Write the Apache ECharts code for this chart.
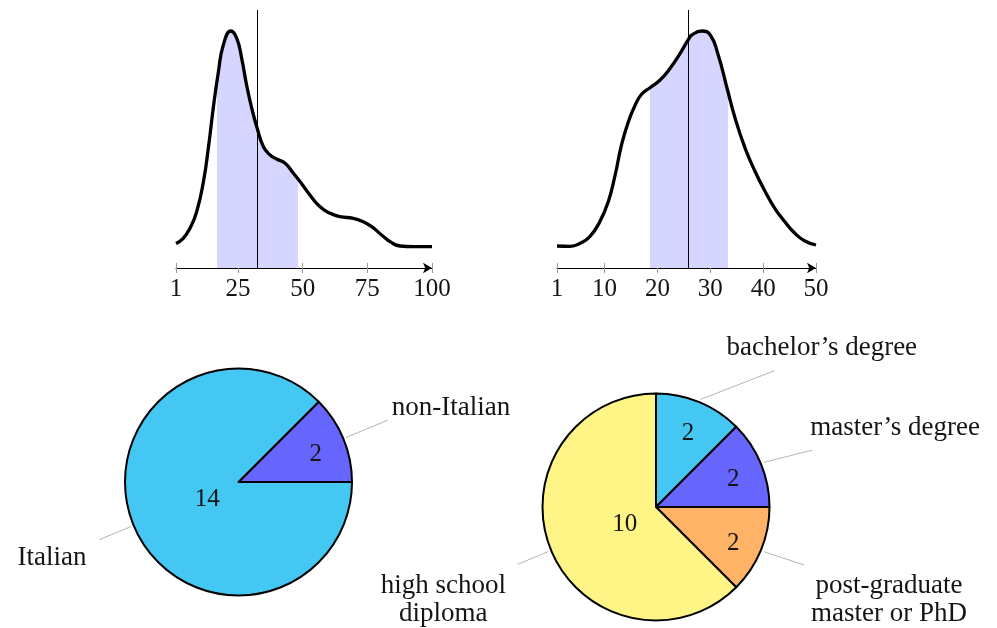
<!DOCTYPE html>
<html><head><meta charset="utf-8">
<script src="https://cdn.jsdelivr.net/npm/echarts@6/dist/echarts.min.js"></script>
<style>html,body{margin:0;padding:0;background:#fff}#c{width:997px;height:628px}</style>
</head><body><div id="c"></div>
<script>
// ---------- data ----------
// left density plot (x range 1..100)
const densAx = [1, 3.8, 6.4, 9.0, 11.6, 13.5, 15.4, 17.4, 19.3, 22.2, 24.5, 26.4, 28.3, 30.3, 32.4, 34.8, 37.4, 39.9, 43.2, 46.4, 48.8, 52.8, 56.7, 60.6, 64.4, 69.6, 73.4, 76.7, 80.5, 84.4, 87.6, 92.8, 100];
const densAy = [24.5, 29.7, 39.7, 56.3, 86.3, 119.7, 159.7, 196.3, 223, 237, 229.7, 209.7, 183, 159.7, 139.7, 121.3, 113, 109, 104.7, 94.7, 87, 73, 61.3, 54.7, 51.3, 49.7, 46.3, 41.3, 33, 25.3, 22, 21.3, 21.3];
const ticksA = [1, 25, 50, 75, 100];
const meanA = 32.5;
const bandA = [16.7, 48.3];

// right density plot (x range 1..50)
const densBx = [1, 3.5, 5.4, 7.2, 9.1, 10.7, 12.0, 13.2, 14.5, 15.8, 17.0, 18.6, 20.5, 22.4, 24.3, 25.8, 26.5, 28.4, 30.0, 31.5, 33.1, 34.7, 36.6, 38.5, 40.4, 42.2, 44.1, 46.0, 47.9, 50];
const densBy = [22, 21.7, 24.7, 31.3, 46.3, 66.3, 93, 123, 146.3, 163, 173.7, 180.3, 188, 199.7, 214.7, 228, 233, 237, 233, 213, 181.3, 149.7, 119.7, 96.3, 76.3, 59.7, 46.3, 34.7, 27, 23];
const ticksB = [1, 10, 20, 30, 40, 50];
const meanB = 25.8;
const bandB = [18.5, 33.4];

// pies
const nationalityNames = ['non-Italian', 'Italian'];
const nationalityValues = [2, 14];
const educationNames = ['bachelor’s degree', 'master’s degree', 'post-graduate\nmaster or PhD', 'high school\ndiploma'];
const educationValues = [2, 2, 2, 10];

// ---------- styles ----------
const FONT = '"Liberation Serif", "Times New Roman", serif';
const FS = 25;
const FSL = 27;
const TXT = '#151515';
const nationalityColors = ['#6666FF', '#45C7F4'];
const educationColors = ['#45C7F4', '#6666FF', '#FFB366', '#FFF587'];
// label placement config per slice (style only)
const nationalityLabelCfg = [
  {l1: 48, l2: 0, dist: 4, pad: [0, 0, 24, 0], num: 'far'},
  {l1: 37, l2: 0, dist: 13, pad: [36, 0, 0, 0], num: 'near'}
];
const educationLabelCfg = [
  {l1: 34, l2: 62, dist: -48, pad: [0, 0, 46, 0], num: 'far'},
  {l1: 35, l2: 19, dist: -2, pad: [0, 0, 44, 0], num: 'far'},
  {l1: 38, l2: 8, dist: 7, pad: [70, 0, 0, 0], num: 'far'},
  {l1: 36, l2: 0, dist: 12, pad: [72, 0, 0, 0], num: 'near'}
];
const R = 113.5;
const SMOOTH = 0.5;

function zip(xs, ys) { return xs.map((x, i) => [x, ys[i]]); }

function mainX(gi, min, max, ticks) {
  return {
    type: 'value', gridIndex: gi, min: min, max: max, position: 'bottom',
    axisLine: {show: true, onZero: false, symbol: ['none', 'arrow'], symbolSize: [8, 9], lineStyle: {color: '#000', width: 1}},
    axisTick: {show: true, inside: false, length: 5, customValues: ticks, lineStyle: {color: '#9a9a9a', width: 1}},
    axisLabel: {show: true, customValues: ticks, margin: 9, color: TXT, fontSize: FS, fontFamily: FONT},
    splitLine: {show: false}
  };
}
function innerX(gi, min, max, ticks) {
  return {
    type: 'value', gridIndex: gi, min: min, max: max, position: 'bottom',
    axisLine: {show: false},
    axisTick: {show: true, inside: true, length: 5, customValues: ticks, lineStyle: {color: '#9a9a9a', width: 1}},
    axisLabel: {show: false}, splitLine: {show: false}
  };
}
function densSeries(gi, data, mean) {
  return [
    {type: 'line', xAxisIndex: 2 * gi, yAxisIndex: gi, data: data, smooth: SMOOTH, symbol: 'none', silent: true,
     lineStyle: {width: 0, opacity: 0}, areaStyle: {opacity: 1}, z: 1},
    {type: 'line', xAxisIndex: 2 * gi, yAxisIndex: gi, data: data, smooth: SMOOTH, symbol: 'none', silent: true,
     lineStyle: {color: '#000', width: 3.3}, z: 3,
     markLine: {silent: true, symbol: ['none', 'none'], label: {show: false},
       lineStyle: {color: '#000', width: 1, type: 'solid'}, data: [{xAxis: mean}]}}
  ];
}
function richFmt(p) { return p.name.split('\n').map(s => '{c|' + s + '}').join('\n'); }
// straighten the label guide line: from just outside the slice edge straight to the line end
function straightLine(p) {
  const pts = p.labelLinePoints;
  if (!pts || pts.length < 2) return {};
  const a = pts[0], b = pts[1], e = pts[pts.length - 1];
  const dx = b[0] - a[0], dy = b[1] - a[1], len = Math.sqrt(dx * dx + dy * dy) || 1;
  const s = [a[0] + 3 * dx / len, a[1] + 3 * dy / len];
  return {labelLinePoints: [s, [(s[0] + e[0]) / 2, (s[1] + e[1]) / 2], e]};
}
function pieSeries(center, names, values, colors, cfg, startAngle) {
  const base = {type: 'pie', center: center, startAngle: startAngle, clockwise: true, avoidLabelOverlap: false, silent: true};
  const main = Object.assign({}, base, {
    radius: R, z: 2,
    itemStyle: {borderColor: '#000', borderWidth: 2},
    label: {show: true, position: 'outside', formatter: richFmt, color: TXT, fontSize: FSL, fontFamily: FONT,
      rich: {c: {align: 'center', color: TXT, fontSize: FSL, fontFamily: FONT, lineHeight: 28}}},
    labelLine: {show: true, smooth: false, lineStyle: {color: '#b5b5b5', width: 1}},
    labelLayout: straightLine,
    data: names.map((n, i) => ({name: n, value: values[i], itemStyle: {color: colors[i]},
      label: {distanceToLabelLine: cfg[i].dist, padding: cfg[i].pad},
      labelLine: {length: cfg[i].l1, length2: cfg[i].l2}}))
  });
  const numLabel = {position: 'inside', formatter: '{c}', color: TXT, fontSize: FS, fontFamily: FONT};
  const far = Object.assign({}, base, {
    radius: R * 1.42, z: 3, itemStyle: {color: 'rgba(0,0,0,0)', borderWidth: 0}, labelLine: {show: false},
    label: numLabel, labelLayout: {dy: 4},
    data: names.map((n, i) => ({name: n, value: values[i], label: {show: cfg[i].num === 'far'}}))
  });
  const near = Object.assign({}, base, {
    radius: R * 0.6, z: 3, itemStyle: {color: 'rgba(0,0,0,0)', borderWidth: 0}, labelLine: {show: false},
    label: numLabel, labelLayout: {dx: 3, dy: 3},
    data: names.map((n, i) => ({name: n, value: values[i], label: {show: cfg[i].num === 'near'}}))
  });
  return [main, far, near];
}

const chart = echarts.init(document.getElementById('c'), null, {renderer: 'canvas'});
chart.setOption({
  animation: false,
  backgroundColor: '#fff',
  grid: [
    {left: 176, top: 10, width: 256, height: 258, outerBoundsMode: 'none'},
    {left: 557, top: 10, width: 259, height: 258, outerBoundsMode: 'none'}
  ],
  xAxis: [mainX(0, 1, 100, ticksA), innerX(0, 1, 100, ticksA), mainX(1, 1, 50, ticksB), innerX(1, 1, 50, ticksB)],
  yAxis: [
    {type: 'value', gridIndex: 0, min: 0, max: 258, show: false},
    {type: 'value', gridIndex: 1, min: 0, max: 258, show: false}
  ],
  visualMap: [
    {type: 'piecewise', show: false, seriesIndex: 0, dimension: 0,
     pieces: [{gte: bandA[0], lte: bandA[1], color: '#D5D5FF'}], outOfRange: {color: 'rgba(213,213,255,0)'}},
    {type: 'piecewise', show: false, seriesIndex: 2, dimension: 0,
     pieces: [{gte: bandB[0], lte: bandB[1], color: '#D5D5FF'}], outOfRange: {color: 'rgba(213,213,255,0)'}}
  ],
  series: [].concat(
    densSeries(0, zip(densAx, densAy), meanA),
    densSeries(1, zip(densBx, densBy), meanB),
    pieSeries([238.5, 482], nationalityNames, nationalityValues, nationalityColors, nationalityLabelCfg, 45),
    pieSeries([656, 507], educationNames, educationValues, educationColors, educationLabelCfg, 90)
  )
});
</script></body></html>
